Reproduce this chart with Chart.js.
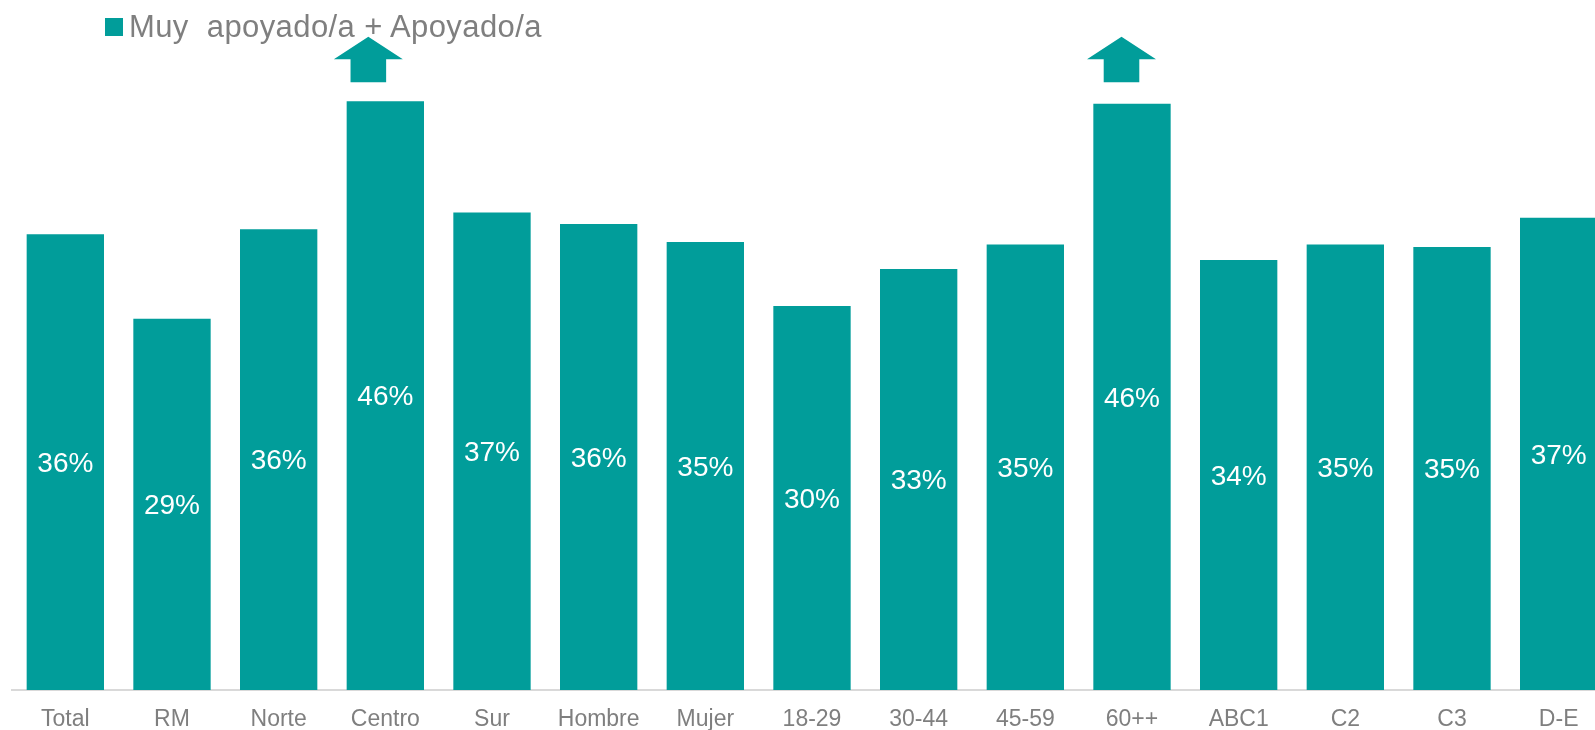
<!DOCTYPE html>
<html>
<head>
<meta charset="utf-8">
<script src="https://cdn.jsdelivr.net/npm/chart.js@4/dist/chart.umd.min.js"></script>
<style>
  html, body { margin: 0; padding: 0; overflow: hidden; background: #ffffff; }
  #wrap { position: relative; width: 1612px; height: 730px; }
  #legend { position: absolute; left: 105px; top: 5px; height: 44px; display: flex; align-items: center;
            font-family: "Liberation Sans", Arial, sans-serif; font-size: 31px; letter-spacing: 0.4px; color: #7f7f7f; white-space: pre; }
  #legend .box { width: 18px; height: 18px; margin-right: 6px; display: inline-block; }
</style>
</head>
<body>
<div id="wrap">
  <canvas id="c"></canvas>
  <div id="legend"></div>
</div>
<script>
const categories = ["Total", "RM", "Norte", "Centro", "Sur", "Hombre", "Mujer", "18-29", "30-44", "45-59", "60++", "ABC1", "C2", "C3", "D-E"];
const seriesName = "Muy  apoyado/a + Apoyado/a";
const supportValues = [35.6, 29.0, 36.0, 46.0, 37.3, 36.4, 35.0, 30.0, 32.9, 34.8, 45.8, 33.6, 34.8, 34.6, 36.9];
const highlightedCategories = ["Centro", "60++"];

const teal = "#019d9a";
const gray = "#7f7f7f";
const fontFamily = '"Liberation Sans", Arial, sans-serif';

// legend (HTML text)
const lg = document.getElementById('legend');
const box = document.createElement('span');
box.className = 'box';
box.style.background = teal;
lg.appendChild(box);
lg.appendChild(document.createTextNode(seriesName));

const valueLabels = {
  id: 'valueLabels',
  afterDatasetsDraw(chart) {
    const ctx = chart.ctx;
    const meta = chart.getDatasetMeta(0);
    ctx.save();
    ctx.fillStyle = '#ffffff';
    ctx.font = '28px ' + fontFamily;
    ctx.textAlign = 'center';
    ctx.textBaseline = 'middle';
    meta.data.forEach((bar, i) => {
      const v = chart.data.datasets[0].data[i];
      ctx.fillText(Math.round(v) + '%', bar.x, (bar.y + bar.base) / 2 + 2);
    });
    ctx.restore();
  }
};

const upArrows = {
  id: 'upArrows',
  afterDatasetsDraw(chart, args, opts) {
    const ctx = chart.ctx;
    const meta = chart.getDatasetMeta(0);
    const top = chart.chartArea.top;
    ctx.save();
    ctx.fillStyle = teal;
    (opts.items || []).forEach(item => {
      const idx = chart.data.labels.indexOf(item.label);
      if (idx < 0) return;
      const cx = meta.data[idx].x + item.dx;
      const apex = top - 13.3, headBase = top + 9.3, bottom = top + 32.3;
      const hw = 34.5, sw = 17.8;
      ctx.beginPath();
      ctx.moveTo(cx, apex);
      ctx.lineTo(cx + hw, headBase);
      ctx.lineTo(cx + sw, headBase);
      ctx.lineTo(cx + sw, bottom);
      ctx.lineTo(cx - sw, bottom);
      ctx.lineTo(cx - sw, headBase);
      ctx.lineTo(cx - hw, headBase);
      ctx.closePath();
      ctx.fill();
    });
    ctx.restore();
  }
};

new Chart(document.getElementById('c'), {
  type: 'bar',
  data: {
    labels: categories,
    datasets: [{
      label: seriesName,
      data: supportValues,
      backgroundColor: teal,
      borderWidth: 0,
      categoryPercentage: 1.0,
      barPercentage: 0.725
    }]
  },
  options: {
    responsive: true,
    maintainAspectRatio: false,
    animation: false,
    layout: { padding: { left: 12, right: 0, top: 50, bottom: 0 } },
    plugins: {
      legend: { display: false },
      tooltip: { enabled: false },
      upArrows: { items: highlightedCategories.map((l, k) => ({ label: l, dx: k === 0 ? -17 : -10.5 })) }
    },
    scales: {
      x: {
        grid: { display: false, drawTicks: false },
        border: { display: true, color: '#d9d9d9', width: 2 },
        ticks: { color: gray, font: { family: fontFamily, size: 23 }, padding: 16, maxRotation: 0, autoSkip: false },
        afterFit: s => { s.height = 40; }
      },
      y: {
        display: false,
        min: 0,
        max: 50
      }
    }
  },
  plugins: [valueLabels, upArrows]
});
</script>
</body>
</html>
